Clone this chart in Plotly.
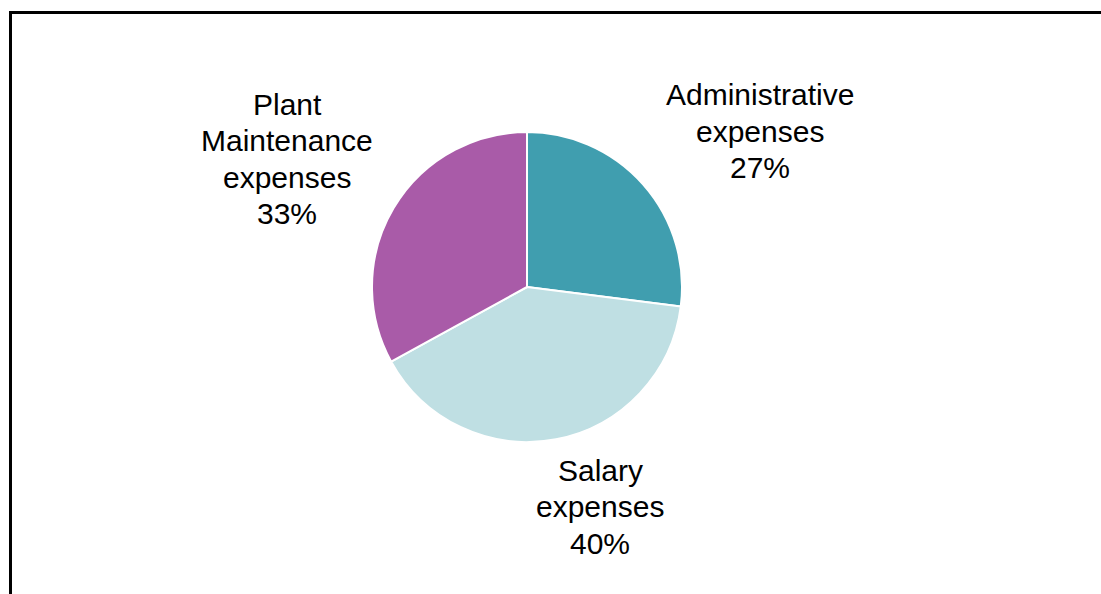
import plotly.graph_objects as go

# Expense breakdown (percent of total)
categories = ["Administrative<br>expenses", "Salary<br>expenses", "Plant<br>Maintenance<br>expenses"]
values = [27, 40, 33]
colors = ["#409EAF", "#BFDFE3", "#A95BA8"]

W, H = 1101, 594
cx, cy, r = 527, 287, 155  # pie centre and radius in pixels

fig = go.Figure(
    go.Pie(
        labels=categories,
        values=values,
        sort=False,
        direction="clockwise",
        rotation=0,
        marker=dict(colors=colors, line=dict(color="white", width=2)),
        textinfo="none",
        hoverinfo="label+percent",
        showlegend=False,
        domain=dict(
            x=[(cx - r) / W, (cx + r) / W],
            y=[(H - cy - r) / H, (H - cy + r) / H],
        ),
    )
)

# label block centres (pixels) for each slice; one annotation per line
label_pos = [(760, 131), (600, 507), (287, 159)]
line_gap = 36.5
total = sum(values)
for cat, val, (lx, ly) in zip(categories, values, label_pos):
    lines = cat.split("<br>") + [f"{round(100 * val / total)}%"]
    n = len(lines)
    for i, txt in enumerate(lines):
        yy = ly + (i - (n - 1) / 2) * line_gap
        fig.add_annotation(
            x=lx / W, y=1 - yy / H, xref="paper", yref="paper",
            text=txt, showarrow=False, align="center",
            xanchor="center", yanchor="middle",
            font=dict(family="Liberation Sans, Arial, sans-serif", size=30, color="black"),
        )

# frame lines (top and left)
fig.add_shape(type="line", xref="paper", yref="paper",
              x0=10 / W, x1=1.0, y0=1 - 12.5 / H, y1=1 - 12.5 / H,
              line=dict(color="black", width=3))
fig.add_shape(type="line", xref="paper", yref="paper",
              x0=10.5 / W, x1=10.5 / W, y0=1 - 11 / H, y1=0,
              line=dict(color="black", width=3))

fig.update_layout(
    width=W, height=H,
    margin=dict(l=0, r=0, t=0, b=0),
    paper_bgcolor="white", plot_bgcolor="white",
)

fig.write_html("out.html")
